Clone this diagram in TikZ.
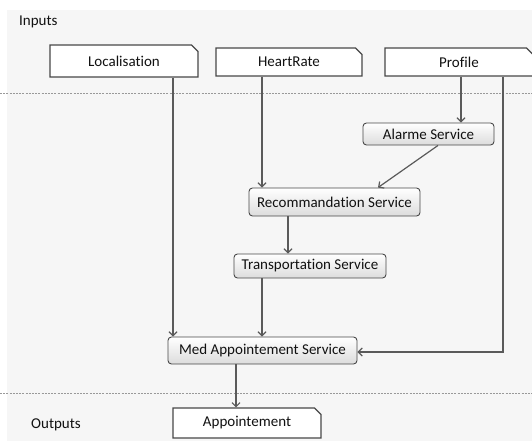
\documentclass[tikz,border=0pt]{standalone}
\usepackage{fontspec}
\setmainfont{Carlito}[Ligatures={NoCommon}]
\usetikzlibrary{arrows.meta,shapes.misc}
\definecolor{bgpanel}{HTML}{F6F6F6}
\definecolor{edge}{HTML}{484848}
\definecolor{wire}{HTML}{5A5A5A}
\definecolor{txt}{HTML}{111111}
\definecolor{gradbot}{HTML}{DCDCDC}
\tikzset{
  every node/.style={font=\fontsize{15}{18}\selectfont, text=txt},
  databox/.style={chamfered rectangle, chamfered rectangle corners=north east,
    chamfered rectangle xsep=3.5pt, chamfered rectangle ysep=3pt,
    draw=edge, line width=1.1pt, fill=white, inner sep=0pt},
  servicebox/.style={rectangle, rounded corners=3.5pt, draw=edge, line width=0.9pt,
    top color=white, bottom color=gradbot, inner sep=0pt},
  wirearrow/.style={draw=wire, line width=1.2pt,
    -{Straight Barb[length=4pt,width=8pt,line width=1.2pt]}},
  divider/.style={draw=gray!80, line width=0.7pt, dash pattern=on 2pt off 1.2pt},
  label/.style={anchor=west, inner sep=0pt}
}
\begin{document}
\begin{tikzpicture}[x=1pt,y=-1pt]
\useasboundingbox (0,0) rectangle (532,441);
\fill[white] (0,0) rectangle (532,441);
\fill[bgpanel] (7,10) rectangle (532,441);

% dividers
\draw[divider] (0,93) -- (532,93);
\draw[divider] (0,393) -- (532,393);

% section labels
\node[label] (inlbl) at (19,22) {Inputs};
\node[label] (outlbl) at (31,425) {Outputs};

% inputs
\node[databox, minimum width=148pt, minimum height=32pt] (loc) at (124,61) {Localisation};
\node[databox, minimum width=146pt, minimum height=28pt] (hr) at (289,62) {HeartRate};
\node[databox, minimum width=148pt, minimum height=28pt] (prof) at (459,62) {Profile};

% services
\node[servicebox, minimum width=131pt, minimum height=22pt] (alarm) at (428.5,134) {Alarme Service};
\node[servicebox, minimum width=171pt, minimum height=28pt] (reco) at (334.5,202) {Recommandation Service};
\node[servicebox, minimum width=152pt, minimum height=24pt] (trans) at (310,266) {Transportation Service};
\node[servicebox, minimum width=189pt, minimum height=27pt] (med) at (262.5,350.5) {Med Appointement Service};

% output
\node[databox, minimum width=148pt, minimum height=30pt] (appt) at (247,423) {Appointement};

% connectors
\draw[wirearrow] (loc.south -| 173,0) -- (med.north -| 173,0);
\draw[wirearrow] (hr.south -| 262,0) -- (reco.north -| 262,0);
\draw[wirearrow] (prof.south -| 461,0) -- (alarm.north -| 461,0);
\draw[wirearrow] (prof.south -| 503,0) |- (med.east |- 0,352);
\draw[wirearrow] (alarm.south -| 438,0) -- (reco.north -| 378,0);
\draw[wirearrow] (reco.south -| 288,0) -- (trans.north -| 288,0);
\draw[wirearrow] (trans.south -| 262,0) -- (med.north -| 262,0);
\draw[wirearrow] (med.south -| 236,0) -- (appt.north -| 236,0);
\end{tikzpicture}
\end{document}
